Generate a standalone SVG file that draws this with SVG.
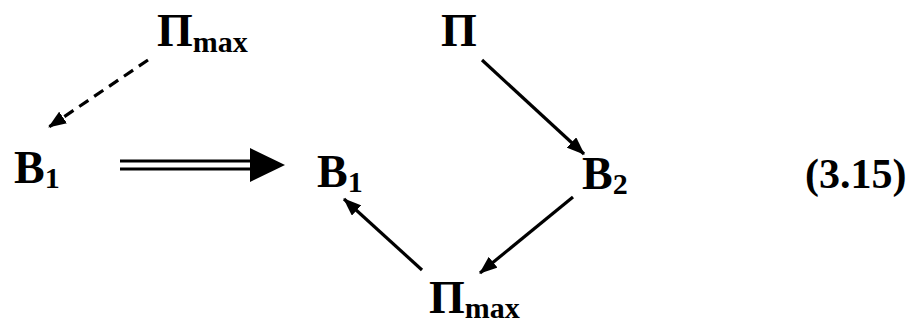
<svg xmlns="http://www.w3.org/2000/svg" width="923" height="325" viewBox="0 0 923 325">
<defs>
<style>
text{font-family:"Liberation Serif","Times New Roman",serif;font-weight:700;fill:#000}
.t{font-size:46px}
.s{font-size:30px}
.c{stroke:#000;stroke-width:3.2;fill:none}
</style>
<marker id="ah" viewBox="0 0 18 14" refX="17" refY="7" markerWidth="18" markerHeight="14" markerUnits="userSpaceOnUse" orient="auto">
<path d="M0,0 L18,7 L0,14 z" fill="#000"/>
</marker>
</defs>
<rect width="923" height="325" fill="#fff"/>
<g id="n-pimax-top"><text class="t" x="157" y="46">Π<tspan class="s" dy="6">max</tspan></text></g>
<g id="n-b1-left"><text class="t" x="14" y="183">B<tspan class="s" dy="5">1</tspan></text></g>
<g id="n-b1-mid"><text class="t" x="317" y="187">B<tspan class="s" dy="5">1</tspan></text></g>
<g id="n-pi-top"><text class="t" x="441" y="46">Π</text></g>
<g id="n-b2"><text class="t" x="582" y="189">B<tspan class="s" dy="5">2</tspan></text></g>
<g id="n-pimax-bot"><text class="t" x="429" y="313">Π<tspan class="s" dy="5">max</tspan></text></g>
<g id="eq"><text class="t" x="805" y="188" style="font-size:42px">(3.15)</text></g>
<g id="connectors">
<line class="c" x1="148" y1="60" x2="49" y2="127" stroke-width="3.5" stroke-dasharray="11,7" marker-end="url(#ah)"/>
<line class="c" x1="120" y1="161" x2="254" y2="161" stroke-width="3.5"/>
<line class="c" x1="120" y1="169" x2="254" y2="169" stroke-width="3.5"/>
<polygon points="250,148 285,165 250,182" fill="#000"/>
<line class="c" x1="482" y1="60" x2="584" y2="154" marker-end="url(#ah)"/>
<line class="c" x1="573" y1="197" x2="480" y2="273" marker-end="url(#ah)"/>
<line class="c" x1="422" y1="270" x2="344" y2="199" marker-end="url(#ah)"/>
</g>
</svg>
